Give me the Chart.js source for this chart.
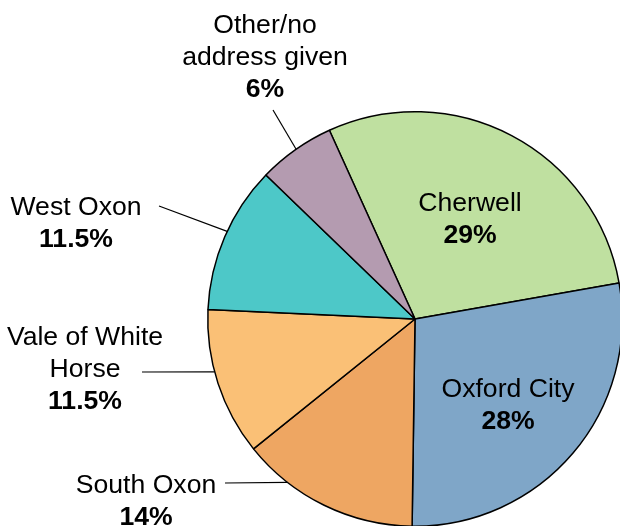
<!DOCTYPE html>
<html>
<head>
<meta charset="utf-8">
<script src="https://cdn.jsdelivr.net/npm/chart.js@4/dist/chart.umd.min.js"></script>
<style>
  html, body { margin: 0; padding: 0; background: #fff; overflow: hidden; }
  #wrap { position: relative; width: 620px; height: 526px; overflow: hidden; }
  #pie { position: absolute; left: 0; top: 0; }
</style>
</head>
<body>
<div id="wrap"><canvas id="pie" width="640" height="540"></canvas></div>
<script>
// Data
var regions = ['Cherwell', 'Oxford City', 'South Oxon', 'Vale of White Horse', 'West Oxon', 'Other/no address given'];
var shares  = [29, 28, 14, 11.5, 11.5, 6];
var colours = ['#bfe0a0', '#7fa6c8', '#eea662', '#fac076', '#4dc8c8', '#b49bb0'];
var labelLines = [['Cherwell'], ['Oxford City'], ['South Oxon'], ['Vale of White', 'Horse'], ['West Oxon'], ['Other/no', 'address given']];

// label placement relative to pie centre: text centre x, first baseline y,
// optional leader start and the angle (deg from top, clockwise) where it meets the rim
var labelPos = [
    {dx: 55,   dy: -108},
    {dx: 93,   dy: 78},
    {dx: -269, dy: 174, lx: -190, ly: 164, ang: -142},
    {dx: -330, dy: 26,  lx: -273, ly: 53,  ang: -104.8},
    {dx: -339, dy: -104, lx: -256, ly: -113, ang: -65},
    {dx: -150, dy: -286, lx: -142, ly: -209, ang: -35}
];

var FONT = '"Liberation Sans", Arial, sans-serif';

var pieLabels = {
    id: 'pieLabels',
    afterDatasetsDraw: function(chart) {
        var ctx = chart.ctx;
        var arcs = chart.getDatasetMeta(0).data;
        var cx = arcs[0].x, cy = arcs[0].y, r = arcs[0].outerRadius;
        ctx.save();
        ctx.fillStyle = '#000';
        ctx.strokeStyle = '#000';
        ctx.lineWidth = 1.2;
        ctx.textAlign = 'center';
        ctx.textBaseline = 'alphabetic';
        labelPos.forEach(function(p, i) {
            var x = cx + p.dx, y = cy + p.dy;
            var lines = labelLines[i];
            ctx.font = '26.6px ' + FONT;
            lines.forEach(function(t, k) {
                ctx.fillText(t, x, y + k * 32);
            });
            ctx.font = 'bold 26.6px ' + FONT;
            ctx.fillText(shares[i] + '%', x, y + lines.length * 32);
            if (p.ang !== undefined) {
                var a = p.ang * Math.PI / 180;
                ctx.beginPath();
                ctx.moveTo(cx + p.lx, cy + p.ly);
                ctx.lineTo(cx + r * Math.sin(a), cy - r * Math.cos(a));
                ctx.stroke();
            }
        });
        ctx.restore();
    }
};

new Chart(document.getElementById('pie').getContext('2d'), {
    type: 'pie',
    data: {
        labels: regions,
        datasets: [{
            data: shares,
            backgroundColor: colours,
            borderColor: '#000',
            borderWidth: 1.5
        }]
    },
    options: {
        responsive: false,
        animation: false,
        rotation: -24.4,
        layout: { padding: { left: 207, top: 111, right: 17, bottom: 13 } },
        plugins: {
            legend: { display: false },
            tooltip: { enabled: false }
        }
    },
    plugins: [pieLabels]
});
</script>
</body>
</html>
